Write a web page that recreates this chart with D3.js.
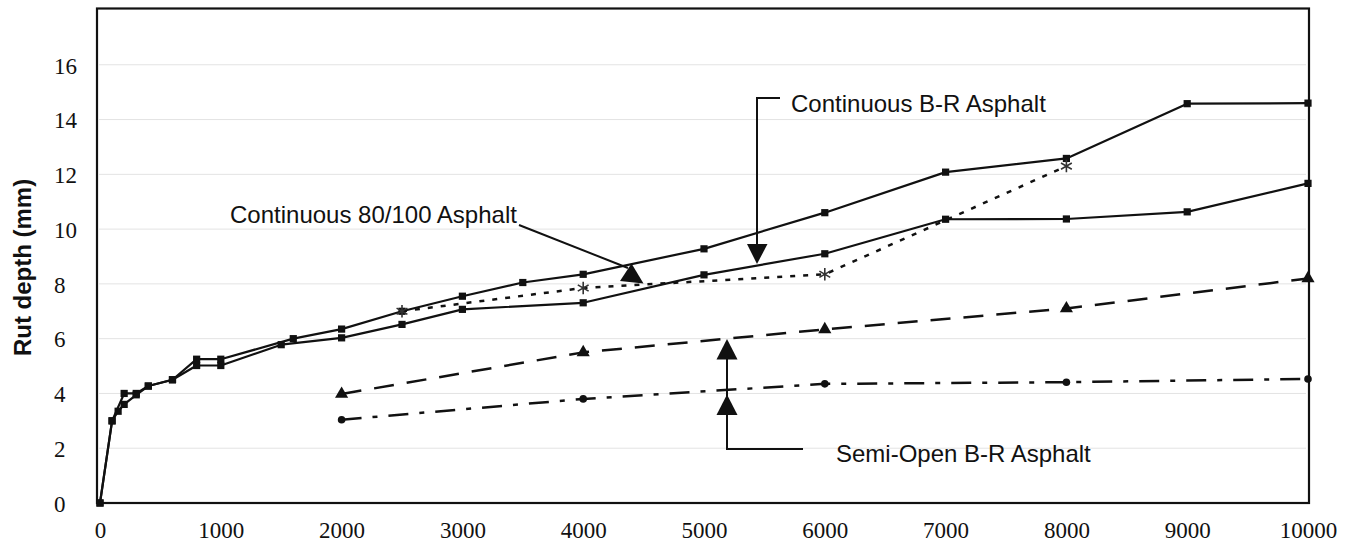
<!DOCTYPE html>
<html><head><meta charset="utf-8">
<script src="https://cdn.jsdelivr.net/npm/d3@7"></script>
<style>html,body{margin:0;padding:0;background:#fff;overflow:hidden}</style>
</head><body>
<svg id="chart" width="1345" height="544"></svg>
<script>
// ---- data ----
const xTicks = [0,1000,2000,3000,4000,5000,6000,7000,8000,9000,10000];
const yTicks = [0,2,4,6,8,10,12,14,16];

const s1Name = "Continuous 80/100 Asphalt";
const s1X = [0,100,200,300,400,600,800,1000,1600,2000,2500,3000,3500,4000,5000,6000,7000,8000,9000,10000];
const s1Y = [0,3.0,4.0,4.0,4.27,4.5,5.25,5.25,6.0,6.35,7.0,7.55,8.05,8.35,9.28,10.6,12.08,12.58,14.58,14.6];

const s2Name = "Continuous B-R Asphalt";
const s2X = [0,100,150,200,300,400,600,800,1000,1500,2000,2500,3000,4000,5000,6000,7000,8000,9000,10000];
const s2Y = [0,3.0,3.35,3.6,3.95,4.27,4.5,5.02,5.02,5.78,6.03,6.52,7.07,7.31,8.33,9.1,10.36,10.37,10.63,11.67];

const s3X = [2500,4000,6000,8000];
const s3Y = [7.0,7.85,8.35,12.3];

const s4Name = "Semi-Open B-R Asphalt";
const s4X = [2000,4000,6000,8000,10000];
const s4Y = [3.98,5.5,6.34,7.1,8.2];

const s5X = [2000,4000,6000,8000,10000];
const s5Y = [3.04,3.8,4.35,4.41,4.53];

const yTitle = "Rut depth (mm)";

// ---- chart ----
const svg = d3.select("#chart");
const x = d3.scaleLinear().domain([0,10000]).range([100,1308]);
const y = d3.scaleLinear().domain([0,18]).range([503,10]);

// grid
svg.append("g").selectAll("line").data(yTicks.filter(d=>d>0)).join("line")
  .attr("x1",99).attr("x2",1306).attr("y1",d=>y(d)).attr("y2",d=>y(d))
  .attr("stroke","#e3e3e3").attr("stroke-width",1);

// frame
svg.append("rect").attr("x",97).attr("y",y(18)-1.5).attr("width",1212).attr("height",y(0)-y(18)+1.5)
  .attr("fill","none").attr("stroke","#111").attr("stroke-width",2.2);

// axes
const xAxis = svg.append("g").attr("transform",`translate(0,${y(0)})`)
  .call(d3.axisBottom(x).tickValues(xTicks).tickSize(0).tickPadding(19).tickFormat(d=>String(d)));
xAxis.select(".domain").remove();
xAxis.selectAll("text").attr("font-family","'Liberation Serif','Times New Roman',serif")
  .attr("font-size",23).attr("fill","#111");

const yAxis = svg.append("g").attr("transform","translate(97,0)")
  .call(d3.axisLeft(y).tickValues(yTicks).tickSize(0).tickFormat(d=>String(d)));
yAxis.select(".domain").remove();
yAxis.selectAll("text").attr("x",-43).attr("text-anchor","start").attr("dy","0.36em")
  .attr("font-family","'Liberation Serif','Times New Roman',serif")
  .attr("font-size",23).attr("fill","#111");

svg.append("text").attr("transform",`translate(31,${y(8.6)}) rotate(-90)`)
  .attr("text-anchor","middle").attr("font-family","'Liberation Sans',Arial,sans-serif")
  .attr("font-weight","bold").attr("font-size",24).attr("fill","#111").text(yTitle);

const zip = (xs,ys)=>xs.map((v,i)=>[v,ys[i]]);
const line = d3.line().x(d=>x(d[0])).y(d=>y(d[1]));

function drawSeries(pts, dash, width){
  svg.append("path").datum(pts).attr("d",line).attr("fill","none")
    .attr("stroke","#111").attr("stroke-width",width)
    .attr("stroke-dasharray",dash).attr("stroke-linejoin","round");
}
const p1 = zip(s1X,s1Y), p2 = zip(s2X,s2Y), p3 = zip(s3X,s3Y), p4 = zip(s4X,s4Y), p5 = zip(s5X,s5Y);
drawSeries(p3,"5,8",2.5);
drawSeries(p4,"20,13",2.5);
drawSeries(p5,"20,11,5,11",2.5);
drawSeries(p1,null,2.2);
drawSeries(p2,null,2.2);

// markers
const sq = d3.symbol(d3.symbolSquare,52);
[p1,p2].forEach(p=>{
  svg.append("g").selectAll("path").data(p).join("path")
    .attr("transform",d=>`translate(${x(d[0])},${y(d[1])})`).attr("d",sq).attr("fill","#111");
});
svg.append("g").selectAll("path").data(p3).join("path")
  .attr("transform",d=>`translate(${x(d[0])},${y(d[1])})`)
  .attr("d",d3.symbol(d3.symbolAsterisk,110)).attr("fill","none").attr("stroke","#333").attr("stroke-width",1.6);
svg.append("g").selectAll("path").data(p4).join("path")
  .attr("transform",d=>`translate(${x(d[0])},${y(d[1])})`)
  .attr("d",d3.symbol(d3.symbolTriangle,75)).attr("fill","#111");
svg.append("g").selectAll("circle").data(p5).join("circle")
  .attr("cx",d=>x(d[0])).attr("cy",d=>y(d[1])).attr("r",3.8).attr("fill","#111");

// annotations
const ann = svg.append("g").attr("font-family","'Liberation Sans',Arial,sans-serif").attr("font-size",24).attr("fill","#111");
ann.append("text").attr("x",230).attr("y",223).text(s1Name);
ann.append("text").attr("x",791).attr("y",112).text(s2Name);
ann.append("text").attr("x",836).attr("y",462).text(s4Name);

const arr = svg.append("g").attr("stroke","#111").attr("stroke-width",2).attr("fill","none");
arr.append("path").attr("d","M780,98 H757 V246");
arr.append("path").attr("d","M519,225 L628,268");
arr.append("path").attr("d","M803,449 H727 V350");
const heads = svg.append("g").attr("fill","#111");
heads.append("path").attr("d","M747,244 L767.5,244 L757,264 Z");
heads.append("path").attr("d","M631.5,263.5 L620,281 L643.5,283.5 Z");
heads.append("path").attr("d","M716.5,359.5 L737.5,359.5 L727,339 Z");
heads.append("path").attr("d","M716.5,415 L737.5,415 L727,394.5 Z");
</script>
</body></html>
